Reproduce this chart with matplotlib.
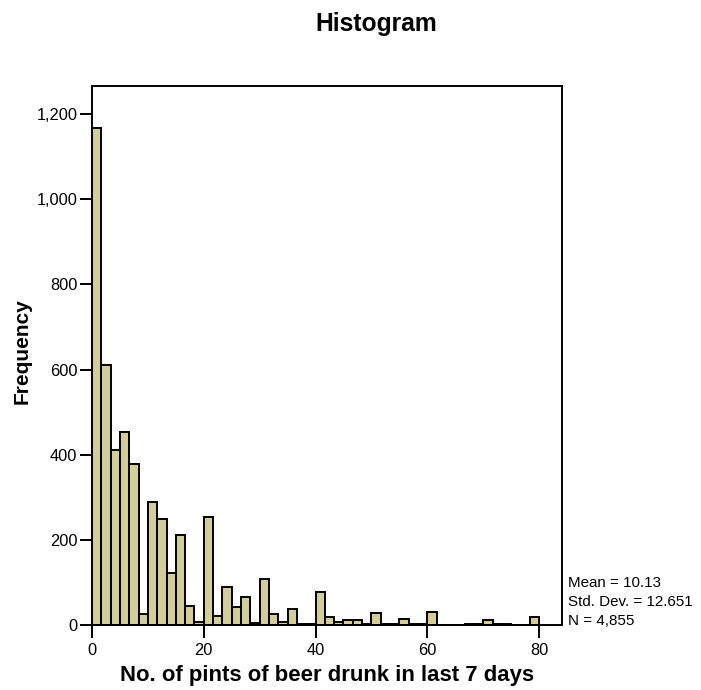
import matplotlib
matplotlib.use("Agg")
import matplotlib.pyplot as plt
from matplotlib.ticker import FuncFormatter
import numpy as np

plt.rcParams["font.family"] = ["Liberation Sans", "DejaVu Sans"]

# ---- data ----
bin_width = 5 / 3          # width of each histogram bin (pints)
bin_origin = 0.0
counts = [1168, 610, 412, 454, 377, 26, 290, 248, 122, 212, 45, 6,
          254, 21, 89, 42, 65, 4, 109, 25, 8, 37, 3, 2,
          78, 18, 6, 11, 11, 2, 28, 2, 2, 14, 2, 2,
          30, 1, 1, 1, 2, 2, 12, 2, 3, 1, 1, 18]
x_ticks = [0, 20, 40, 60, 80]
y_ticks = [0, 200, 400, 600, 800, 1000, 1200]
title = "Histogram"
x_label = "No. of pints of beer drunk in last 7 days"
y_label = "Frequency"
stats_lines = ["Mean = 10.13", "Std. Dev. = 12.651", "N = 4,855"]

bar_color = "#d3ce97"

# ---- figure ----
W, H = 701, 690
fig = plt.figure(figsize=(W / 100, H / 100), dpi=100)
ax_l, ax_r, ax_t, ax_b = 92, 562, 86, 625
ax = fig.add_axes([ax_l / W, 1 - ax_b / H, (ax_r - ax_l) / W, (ax_b - ax_t) / H])

lefts = bin_origin + np.arange(len(counts)) * bin_width
ax.bar(lefts, counts, width=bin_width, align="edge", color=bar_color,
       edgecolor="black", linewidth=1.4, zorder=2)

ax.set_xlim(0, 84.1)
ax.set_ylim(0, 1266)
ax.set_xticks(x_ticks)
ax.set_yticks(y_ticks)
ax.yaxis.set_major_formatter(FuncFormatter(lambda v, p: f"{v:,.0f}"))

for s in ax.spines.values():
    s.set_linewidth(1.4)
    s.set_color("black")
ax.tick_params(axis="both", direction="out", length=9, width=1.4,
               labelsize=11.8, colors="black")
ax.tick_params(axis="y", pad=1.5)
ax.tick_params(axis="x", pad=4)

ax.set_xlabel(x_label, fontsize=15.9, fontweight="bold", va="center")
ax.xaxis.set_label_coords(0.5, (ax_b - 676) / (ax_b - ax_t))
ax.set_ylabel(y_label, fontsize=15, fontweight="bold", va="center")
ax.yaxis.set_label_coords((22 - ax_l) / (ax_r - ax_l), (ax_b - 351) / (ax_b - ax_t))

fig.text(376 / W, 1 - 23.5 / H, title, ha="center", va="center",
         fontsize=17.7, fontweight="bold")

ys = [582.7, 602.0, 621.0]
for line, yp in zip(stats_lines, ys):
    ax.text((568 - ax_l) / (ax_r - ax_l), (ax_b - yp) / (ax_b - ax_t), line,
            transform=ax.transAxes, ha="left", va="center", fontsize=10.9,
            clip_on=False)

fig.savefig("out.png", dpi=100)
